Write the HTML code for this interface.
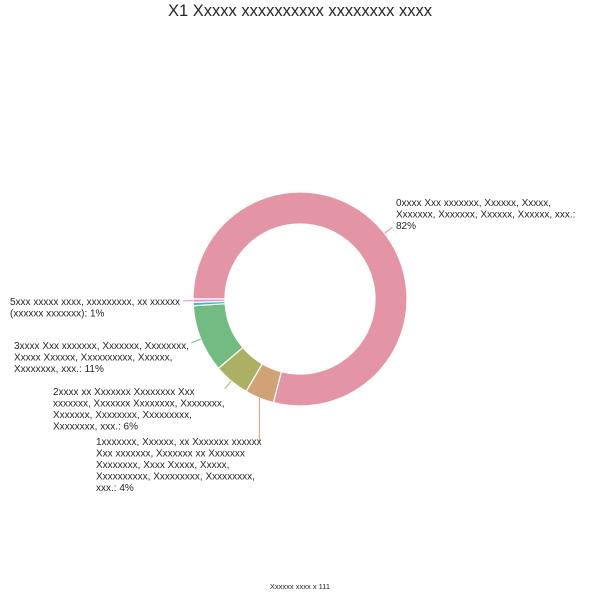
<!DOCTYPE html>
<html><head><meta charset="utf-8"><style>
body{margin:0;background:#fff;width:600px;height:600px;overflow:hidden}
svg{font-family:"Liberation Sans",sans-serif}
</style></head><body>
<svg width="600" height="600">
<text x="300" y="16" text-anchor="middle" font-size="16.5" fill="#262626">X1 Xxxxx xxxxxxxxxx xxxxxxxx xxxx</text>
<g id="slices"></g>
<g id="labels"></g>
<text x="300" y="589" text-anchor="middle" font-size="7.5" fill="#262626">Xxxxxx xxxx x 111</text>
</svg>
<script>
const categories=["0xxxx","1xxxxxxx","2xxxx","3xxxxx","4xxxx","5xxx"];
const values=[79.0,4.4,5.4,10.2,0.5,0.5];
const colors=["#e495a5","#d2a277","#abb065","#72bb83","#39beb1","#d497d3"];
const labelTexts=[
 ["0xxxx Xxx xxxxxxx, Xxxxxx, Xxxxx,","Xxxxxxx, Xxxxxxx, Xxxxxx, Xxxxxx, xxx.:","82%"],
 ["1xxxxxxx, Xxxxxx, xx Xxxxxxx xxxxxx","Xxx xxxxxxx, Xxxxxxx xx Xxxxxxx","Xxxxxxxx, Xxxx Xxxxx, Xxxxx,","Xxxxxxxxxx, Xxxxxxxxx, Xxxxxxxxx,","xxx.: 4%"],
 ["2xxxx xx Xxxxxxx Xxxxxxxx Xxx","xxxxxxx, Xxxxxxx Xxxxxxxx, Xxxxxxxx,","Xxxxxxx, Xxxxxxxx, Xxxxxxxxx,","Xxxxxxxx, xxx.: 6%"],
 ["3xxxx Xxx xxxxxxx, Xxxxxxx, Xxxxxxxx,","Xxxxx Xxxxxx, Xxxxxxxxxx, Xxxxxx,","Xxxxxxxx, xxx.: 11%"],
 null,
 ["5xxx xxxxx xxxx, xxxxxxxxx, xx xxxxxx","(xxxxxx xxxxxxx): 1%"]
];
const labelPos=[[396,206],[96,445],[53,395],[14,349],null,[10,305]];
const cx=300,cy=299,R=107,r=75;
const NS="http://www.w3.org/2000/svg";
const total=values.reduce((a,b)=>a+b,0);
function pt(a,rad){return [cx+rad*Math.cos(a),cy+rad*Math.sin(a)];}
let ang=Math.PI;
const gS=document.getElementById('slices'),gL=document.getElementById('labels');
values.forEach((v,i)=>{
 const sweep=v/total*2*Math.PI;
 const a0=ang,a1=ang+sweep;ang=a1;
 const large=sweep>Math.PI?1:0;
 const p0=pt(a0,R),p1=pt(a1,R),q1=pt(a1,r),q0=pt(a0,r);
 const p=document.createElementNS(NS,'path');
 p.setAttribute('d',`M${p0}A${R},${R} 0 ${large} 1 ${p1}L${q1}A${r},${r} 0 ${large} 0 ${q0}Z`);
 p.setAttribute('fill',colors[i]);p.setAttribute('stroke','#fff');p.setAttribute('stroke-width','1.2');
 
 
 gS.appendChild(p);
 if(!labelTexts[i])return;
 const mid=(a0+a1)/2;
 const e=pt(mid,R),o=pt(mid,R+10);
 const [lx,ly]=labelPos[i];
 const ln=document.createElementNS(NS,'line');
 ln.setAttribute('x1',e[0]);ln.setAttribute('y1',e[1]);
 let tx=o[0],ty=o[1];
 if(i===1){ty=442;tx=e[0];}
 ln.setAttribute('x2',tx);ln.setAttribute('y2',ty);
 ln.setAttribute('stroke',colors[i]);ln.setAttribute('stroke-width','1');
 
 
 gL.appendChild(ln);
 const t=document.createElementNS(NS,'text');
 t.setAttribute('font-size','10');t.setAttribute('fill','#262626');
 
 
 labelTexts[i].forEach((s,k)=>{
  const sp=document.createElementNS(NS,'tspan');
  sp.setAttribute('x',lx);sp.setAttribute('y',ly+k*11.5);sp.textContent=s;t.appendChild(sp);
 });
 gL.appendChild(t);
});
</script>
</body></html>
